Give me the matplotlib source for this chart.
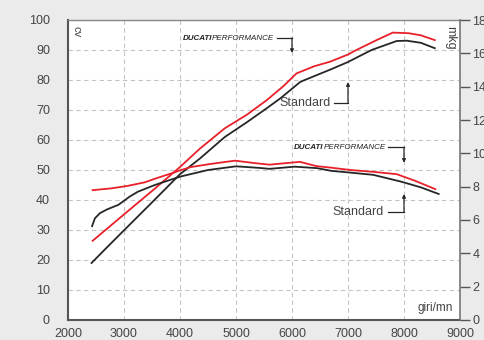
import matplotlib
matplotlib.use("Agg")
import matplotlib.pyplot as plt

plt.rcParams['font.family'] = ['Liberation Sans', 'DejaVu Sans']

# ---- data ----
hp_std_rpm = [2420, 2700, 3000, 3500, 4000, 4360, 4800, 5200, 5550, 5800, 6150, 6700, 7000, 7420, 7870, 8050, 8300, 8550]
hp_std = [19.0, 24.3, 29.9, 39.2, 48.6, 53.9, 61.0, 66.0, 70.6, 74.0, 79.4, 83.6, 86.0, 90.0, 93.0, 93.1, 92.4, 90.6]

hp_perf_rpm = [2440, 3000, 3500, 4000, 4360, 4800, 5200, 5550, 5850, 6080, 6400, 6680, 7000, 7150, 7500, 7800, 8080, 8300, 8550]
hp_perf = [26.4, 35.2, 43.0, 51.0, 57.2, 63.9, 68.5, 73.3, 78.0, 82.2, 84.6, 86.1, 88.5, 90.0, 93.2, 95.8, 95.6, 94.9, 93.3]

tq_std_rpm = [2430, 2480, 2570, 2700, 2900, 3100, 3250, 3550, 4000, 4500, 5000, 5400, 5600, 6050, 6450, 6700, 7050, 7450, 7950, 8300, 8620]
tq_std = [5.63, 6.10, 6.41, 6.64, 6.91, 7.40, 7.70, 8.10, 8.60, 9.00, 9.22, 9.13, 9.07, 9.20, 9.11, 8.95, 8.84, 8.71, 8.30, 7.96, 7.56]

tq_perf_rpm = [2440, 2780, 3070, 3370, 3600, 3850, 4020, 4200, 4540, 4980, 5370, 5600, 6140, 6440, 6700, 7040, 7450, 7870, 8200, 8560]
tq_perf = [7.79, 7.90, 8.05, 8.26, 8.53, 8.80, 9.00, 9.18, 9.36, 9.56, 9.40, 9.32, 9.49, 9.23, 9.14, 9.00, 8.89, 8.75, 8.35, 7.85]

x_ticks = [2000, 3000, 4000, 5000, 6000, 7000, 8000, 9000]
y_ticks = [0, 10, 20, 30, 40, 50, 60, 70, 80, 90, 100]
y2_ticks = [0, 2, 4, 6, 8, 10, 12, 14, 16, 18]

RED = '#e8202a'
BLACK = '#262626'
GRID = '#c4c4c4'
TXT = '#444444'

fig = plt.figure(figsize=(4.84, 3.40), dpi=100, facecolor='#ebebeb')
ax = fig.add_axes([68/484, 20/340, 392/484, 300/340])
ax.set_facecolor('white')
ax.set_xlim(2000, 9000)
ax.set_ylim(0, 100)
ax.set_xticks(x_ticks)
ax.set_yticks(y_ticks)
ax.tick_params(axis='both', length=0, labelsize=9, labelcolor=TXT)
ax.tick_params(axis='y', pad=13)
ax.tick_params(axis='x', pad=6)
ax.grid(True, color=GRID, linestyle=(0, (4, 3)), linewidth=0.8)
ax.set_axisbelow(True)

for s in ['left', 'bottom']:
    ax.spines[s].set_color('#555555')
    ax.spines[s].set_linewidth(1.5)
ax.spines['top'].set_color('#888888')
ax.spines['top'].set_linewidth(1.0)
ax.spines['right'].set_visible(False)

ax2 = ax.twinx()
ax2.set_ylim(0, 18)
ax2.set_yticks(y2_ticks)
ax2.tick_params(axis='y', length=7, width=1.0, color='#555555', labelsize=9, labelcolor=TXT, pad=2)
for s in ['left', 'bottom', 'top']:
    ax2.spines[s].set_visible(False)
ax2.spines['right'].set_color('#777777')
ax2.spines['right'].set_linewidth(1.2)

ax.plot(hp_std_rpm, hp_std, color=BLACK, lw=1.3)
ax.plot(hp_perf_rpm, hp_perf, color=RED, lw=1.3)
ax2.plot(tq_std_rpm, tq_std, color=BLACK, lw=1.3)
ax2.plot(tq_perf_rpm, tq_perf, color=RED, lw=1.3)

# axis unit labels
ax.text(2150, 98, 'cv', rotation=270, fontsize=8, color=TXT, ha='center', va='top')
ax.text(8830, 98, 'mkg', rotation=270, fontsize=9, color=TXT, ha='center', va='top')
ax.text(8870, 4, 'giri/mn', fontsize=8.5, color=TXT, ha='right', va='center')

def ducati(x, y):
    ax.text(x, y, 'DUCATI', fontsize=5.8, fontweight='bold', fontstyle='italic',
            color='#222222', ha='right', va='center')
    ax.text(x, y, 'PERFORMANCE', fontsize=5.8, fontstyle='italic',
            color='#222222', ha='left', va='center')

def connector(x0, x1, y0, y1):
    ax.plot([x0, x1], [y0, y0], color=BLACK, lw=0.9)
    ax.annotate('', xy=(x1, y1), xytext=(x1, y0),
                arrowprops=dict(arrowstyle='-|>', color=BLACK, lw=0.9,
                                mutation_scale=5, shrinkA=0, shrinkB=0))

ducati(4571, 94.0)
connector(5730, 6000, 94.0, 89.0)

ducati(6559, 57.6)
connector(7720, 8000, 57.6, 52.4)

ax.text(6690, 72.4, 'Standard', fontsize=9, color=TXT, ha='right', va='center')
connector(6750, 7000, 72.4, 79.3)

ax.text(7630, 36.1, 'Standard', fontsize=9, color=TXT, ha='right', va='center')
connector(7720, 8000, 36.1, 42.0)

fig.savefig('out.png', dpi=100, facecolor=fig.get_facecolor())
